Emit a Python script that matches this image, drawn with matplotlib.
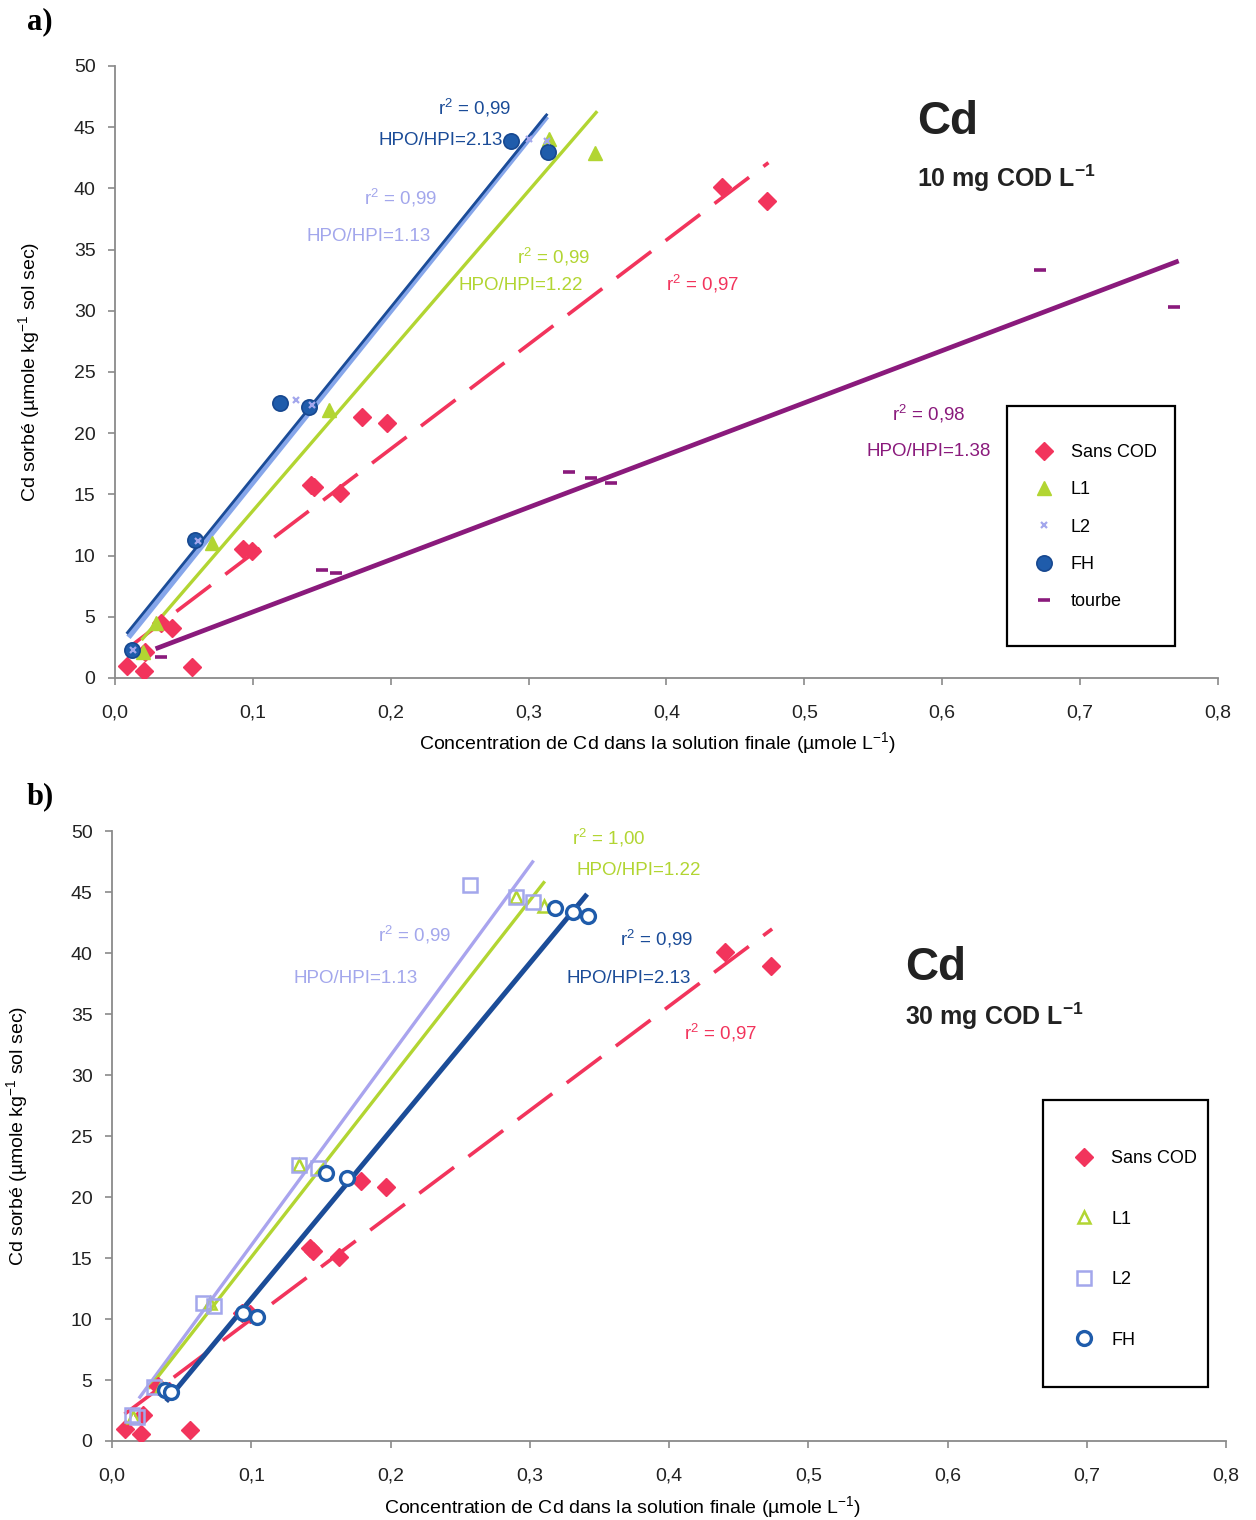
import matplotlib
matplotlib.use("Agg")
import matplotlib.pyplot as plt
from matplotlib.ticker import MultipleLocator, FuncFormatter
from matplotlib.patches import Rectangle

plt.rcParams['font.family'] = ['Liberation Sans', 'DejaVu Sans']
plt.rcParams['mathtext.default'] = 'regular'

# ---- data ----
# Sans COD is the same series in both panels
sans_x = [0.009, 0.021, 0.022, 0.033, 0.041, 0.056, 0.093, 0.099, 0.142, 0.144, 0.163, 0.179, 0.197, 0.440, 0.473]
sans_y = [1.0, 0.6, 2.1, 4.5, 4.1, 0.9, 10.5, 10.4, 15.8, 15.6, 15.1, 21.3, 20.8, 40.1, 39.0]

# panel a) 10 mg COD/L
a_l1_x = [0.020, 0.030, 0.070, 0.155, 0.315, 0.348]
a_l1_y = [2.1, 4.5, 11.0, 21.9, 44.0, 42.9]
a_l2_x = [0.013, 0.060, 0.131, 0.143, 0.300, 0.313]
a_l2_y = [2.3, 11.2, 22.7, 22.3, 44.0, 43.9]
a_fh_x = [0.012, 0.058, 0.120, 0.141, 0.287, 0.314]
a_fh_y = [2.3, 11.3, 22.5, 22.1, 43.9, 43.0]
a_tb_x = [0.033, 0.150, 0.160, 0.329, 0.345, 0.360, 0.671, 0.768]
a_tb_y = [1.7, 8.8, 8.6, 16.8, 16.3, 15.9, 33.3, 30.3]

# panel b) 30 mg COD/L
b_l1_x = [0.015, 0.035, 0.070, 0.134, 0.290, 0.310]
b_l1_y = [2.0, 4.4, 11.3, 22.6, 44.6, 43.9]
b_l2_x = [0.014, 0.018, 0.030, 0.065, 0.073, 0.134, 0.148, 0.257, 0.290, 0.302]
b_l2_y = [2.1, 2.0, 4.4, 11.3, 11.1, 22.6, 22.4, 45.6, 44.6, 44.2]
b_fh_x = [0.038, 0.042, 0.094, 0.104, 0.154, 0.169, 0.318, 0.331, 0.342]
b_fh_y = [4.2, 4.0, 10.5, 10.2, 22.0, 21.6, 43.7, 43.4, 43.1]

# trend lines: [x_start, x_end], [y_start, y_end]
a_fit = {
    'sans': ([0.009, 0.474], [2.4, 42.1]),
    'l1': ([0.020, 0.349], [3.2, 46.2]),
    'l2': ([0.011, 0.312], [3.5, 45.7]),
    'fh': ([0.009, 0.313], [3.7, 46.0]),
    'tb': ([0.031, 0.770], [2.45, 34.0]),
}
b_fit = {
    'sans': ([0.009, 0.474], [2.2, 42.0]),
    'l2': ([0.020, 0.302], [3.6, 47.5]),
    'l1': ([0.027, 0.310], [4.4, 45.8]),
    'fh': ([0.040, 0.340], [3.4, 44.7]),
}

RED = '#f2345c'
GREEN = '#b2d532'
LAV = '#a3a7ec'
BLUE = '#1f5cab'
DBLUE = '#1b4c98'
PURP = '#8a1a7c'

fig = plt.figure(figsize=(12.56, 15.2), dpi=100)
ax1 = fig.add_axes([0.0916, 0.554, 0.878, 0.4026])
ax2 = fig.add_axes([0.0892, 0.052, 0.887, 0.401])


def style_axes(ax):
    ax.set_xlim(0, 0.8)
    ax.set_ylim(0, 50)
    ax.xaxis.set_major_locator(MultipleLocator(0.1))
    ax.yaxis.set_major_locator(MultipleLocator(5))
    ax.xaxis.set_major_formatter(FuncFormatter(lambda v, p: f"{v:.1f}".replace('.', ',')))
    ax.yaxis.set_major_formatter(FuncFormatter(lambda v, p: f"{v:.0f}"))
    for s in ['top', 'right']:
        ax.spines[s].set_visible(False)
    for s in ['left', 'bottom']:
        ax.spines[s].set_color('#8a8a8a')
        ax.spines[s].set_linewidth(1.3)
    ax.tick_params(direction='out', length=5, width=1.2, color='#8a8a8a',
                   labelsize=14, pad=9, labelcolor='#222222')
    ax.tick_params(axis='x', pad=14)


style_axes(ax1)
style_axes(ax2)

# ---- panel a ----
ax1.plot(*a_fit['sans'], color=RED, lw=2.6, dashes=(12, 5), zorder=2)
ax1.plot(*a_fit['tb'], color=PURP, lw=3.4, zorder=2)
ax1.plot(*a_fit['l1'], color=GREEN, lw=2.4, zorder=2)
ax1.plot(*a_fit['l2'], color='#86a6ea', lw=4.0, zorder=2)
ax1.plot(*a_fit['fh'], color=DBLUE, lw=2.0, zorder=2)

ax1.plot(sans_x, sans_y, 'D', color=RED, ms=9, mec=RED, label='Sans COD', zorder=3)
ax1.plot(a_l1_x, a_l1_y, '^', color=GREEN, ms=10, mec=GREEN, label='L1', zorder=3)
ax1.plot(a_l2_x, a_l2_y, 'x', color=LAV, ms=5, mew=1.6, label='L2', zorder=4)
ax1.plot(a_fh_x, a_fh_y, 'o', color=BLUE, ms=11, mec='#174890', mew=1.2, label='FH', zorder=3)
ax1.plot(a_tb_x, a_tb_y, '_', color=PURP, ms=8, mew=2.6, label='tourbe', zorder=3)

tsz = 13.5
ax1.text(0.261, 46.6, 'r$^2$ = 0,99', color=DBLUE, fontsize=tsz, ha='center', va='center')
ax1.text(0.2365, 43.9, 'HPO/HPI=2.13', color=DBLUE, fontsize=tsz, ha='center', va='center')
ax1.text(0.207, 39.2, 'r$^2$ = 0,99', color=LAV, fontsize=tsz, ha='center', va='center')
ax1.text(0.184, 36.1, 'HPO/HPI=1.13', color=LAV, fontsize=tsz, ha='center', va='center')
ax1.text(0.318, 34.4, 'r$^2$ = 0,99', color=GREEN, fontsize=tsz, ha='center', va='center')
ax1.text(0.2945, 32.1, 'HPO/HPI=1.22', color=GREEN, fontsize=tsz, ha='center', va='center')
ax1.text(0.4265, 32.2, 'r$^2$ = 0,97', color=RED, fontsize=tsz, ha='center', va='center')
ax1.text(0.590, 21.6, 'r$^2$ = 0,98', color=PURP, fontsize=tsz, ha='center', va='center')
ax1.text(0.590, 18.5, 'HPO/HPI=1.38', color=PURP, fontsize=tsz, ha='center', va='center')
ax1.text(0.582, 45.4, 'Cd', fontsize=33, fontweight='bold', color='#222222',
         ha='left', va='center')
ax1.text(0.582, 40.85, '10 mg COD L$^{-1}$', fontsize=18, fontweight='bold', color='#222222',
         ha='left', va='center')

ax1.add_patch(Rectangle((0.8087, 0.0523), 0.961 - 0.8087, 0.4444 - 0.0523,
                        transform=ax1.transAxes, fill=False, ec='black', lw=1.6, zorder=5))
ax1.legend(loc='upper left', bbox_to_anchor=(0.834, 0.382), frameon=False,
           borderpad=0, borderaxespad=0, handlelength=1.0, handletextpad=1.0,
           labelspacing=1.12, fontsize=13, markerscale=1.0)

ax1.set_xlabel('Concentration de Cd dans la solution finale (µmole L$^{-1}$)', fontsize=14, va='top')
ax1.xaxis.set_label_coords(0.492, -0.086)
ax1.set_ylabel('Cd sorbé (µmole kg$^{-1}$ sol sec)', fontsize=14)
ax1.yaxis.set_label_coords(-0.066, 0.5)

# ---- panel b ----
ax2.plot(*b_fit['sans'], color=RED, lw=2.6, dashes=(12, 5), zorder=2)
ax2.plot(*b_fit['l2'], color='#a9a4ee', lw=2.4, zorder=2)
ax2.plot(*b_fit['l1'], color=GREEN, lw=2.4, zorder=2)
ax2.plot(*b_fit['fh'], color=DBLUE, lw=3.6, zorder=2)

ax2.plot(sans_x, sans_y, 'D', color=RED, ms=9, mec=RED, label='Sans COD', zorder=3)
ax2.plot(b_l1_x, b_l1_y, '^', mfc='none', mec=GREEN, ms=9, mew=1.8, label='L1', zorder=3)
ax2.plot(b_l2_x, b_l2_y, 's', mfc='none', mec=LAV, ms=10, mew=1.8, label='L2', zorder=3)
ax2.plot(b_fh_x, b_fh_y, 'o', mfc='white', mec=BLUE, ms=10, mew=2.4, label='FH', zorder=3)

ax2.text(0.357, 49.5, 'r$^2$ = 1,00', color=GREEN, fontsize=tsz, ha='center', va='center')
ax2.text(0.378, 46.8, 'HPO/HPI=1.22', color=GREEN, fontsize=tsz, ha='center', va='center')
ax2.text(0.2176, 41.5, 'r$^2$ = 0,99', color=LAV, fontsize=tsz, ha='center', va='center')
ax2.text(0.175, 37.95, 'HPO/HPI=1.13', color=LAV, fontsize=tsz, ha='center', va='center')
ax2.text(0.3907, 41.15, 'r$^2$ = 0,99', color=DBLUE, fontsize=tsz, ha='center', va='center')
ax2.text(0.371, 37.95, 'HPO/HPI=2.13', color=DBLUE, fontsize=tsz, ha='center', va='center')
ax2.text(0.437, 33.5, 'r$^2$ = 0,97', color=RED, fontsize=tsz, ha='center', va='center')
ax2.text(0.5695, 38.8, 'Cd', fontsize=33, fontweight='bold', color='#222222',
         ha='left', va='center')
ax2.text(0.5695, 34.8, '30 mg COD L$^{-1}$', fontsize=18, fontweight='bold', color='#222222',
         ha='left', va='center')

ax2.add_patch(Rectangle((0.8357, 0.0885), 0.9838 - 0.8357, 0.559 - 0.0885,
                        transform=ax2.transAxes, fill=False, ec='black', lw=1.6, zorder=5))
ax2.legend(loc='upper left', bbox_to_anchor=(0.8645, 0.477), frameon=False,
           borderpad=0, borderaxespad=0, handlelength=1.0, handletextpad=1.0,
           labelspacing=2.41, fontsize=13, markerscale=1.0)

ax2.set_xlabel('Concentration de Cd dans la solution finale (µmole L$^{-1}$)', fontsize=14, va='top')
ax2.xaxis.set_label_coords(0.458, -0.088)
ax2.set_ylabel('Cd sorbé (µmole kg$^{-1}$ sol sec)', fontsize=14)
ax2.yaxis.set_label_coords(-0.074, 0.5)

fig.text(40 / 1256, 1 - 22 / 1520, 'a)', fontsize=22, fontweight='bold',
         family=['Liberation Serif', 'DejaVu Serif'], ha='center', va='center')
fig.text(40 / 1256, 1 - 797 / 1520, 'b)', fontsize=22, fontweight='bold',
         family=['Liberation Serif', 'DejaVu Serif'], ha='center', va='center')

fig.savefig('out.png', dpi=100)
